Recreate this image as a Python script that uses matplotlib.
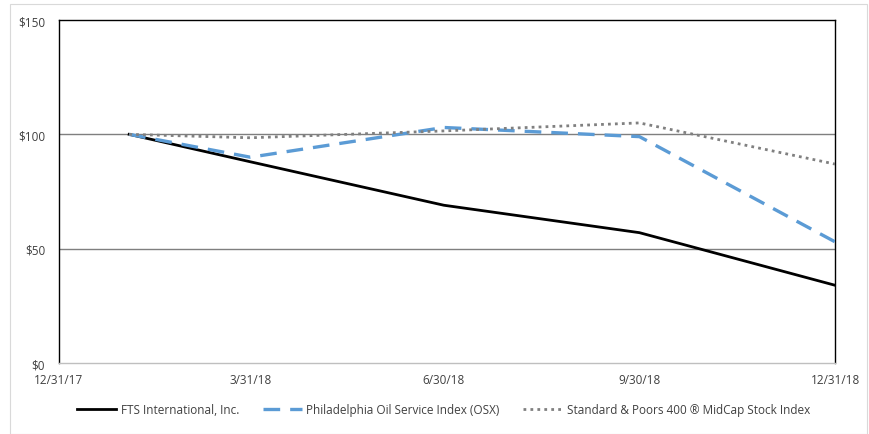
import matplotlib
matplotlib.use("Agg")
import matplotlib.pyplot as plt
from matplotlib.patches import Rectangle
import pandas as pd

dates = pd.to_datetime(["2018-02-02", "2018-03-31", "2018-06-30", "2018-09-30", "2018-12-31"])
fts = [100, 88, 69, 57, 34]
osx = [100, 90, 103, 99, 53]
sp400 = [100, 98.5, 101.5, 105, 87]

tick_dates = pd.to_datetime(["2017-12-31", "2018-03-31", "2018-06-30", "2018-09-30", "2018-12-31"])
tick_labels = ["12/31/17", "3/31/18", "6/30/18", "9/30/18", "12/31/18"]
y_ticks = [0, 50, 100, 150]
y_labels = ["$0", "$50", "$100", "$150"]

plt.rcParams["font.family"] = ["Open Sans", "DejaVu Sans"]

fig = plt.figure(figsize=(8.7, 4.35), dpi=100)
ax = fig.add_axes([0.0678, 0.1632, 0.892, 0.7885])

# light frame around the whole figure
fig.patches.append(Rectangle((0.012, 0.0), 0.985, 0.988, transform=fig.transFigure,
                             fill=False, edgecolor="#d9d9d9", linewidth=0.8))

for y in (50, 100):
    ax.axhline(y, color="#7f7f7f", linewidth=1.0, zorder=1)

ax.plot(dates, fts, color="black", linewidth=2.0, label="FTS International, Inc.", zorder=3)
ax.plot(dates, osx, color="#5b9bd5", linewidth=2.4, linestyle=(0, (5, 3)),
        label="Philadelphia Oil Service Index (OSX)", zorder=3)
ax.plot(dates, sp400, color="#808080", linewidth=2.0, linestyle=(0, (1, 1.5)),
        label="Standard & Poors 400 \u00ae MidCap Stock Index", zorder=3)

ax.set_xlim(tick_dates[0], tick_dates[-1])
ax.set_ylim(0, 150)
ax.set_xticks(tick_dates)
ax.set_xticklabels(tick_labels)
ax.set_yticks(y_ticks)
ax.set_yticklabels(y_labels)
ax.tick_params(axis="both", length=0, labelsize=8.5, colors="#404040")
ax.tick_params(axis="x", pad=7)
ax.tick_params(axis="y", pad=10)

for side in ("left", "right", "top"):
    ax.spines[side].set_color("black")
    ax.spines[side].set_linewidth(1.0)
ax.spines["bottom"].set_color("#bfbfbf")
ax.spines["bottom"].set_linewidth(1.0)

fig.legend(loc="center", bbox_to_anchor=(0.51, 0.056), ncol=3, frameon=False,
           fontsize=8.5, handlelength=3.3, columnspacing=2.0, handletextpad=0.4,
           labelcolor="#404040")

fig.savefig("out.png", dpi=100)
